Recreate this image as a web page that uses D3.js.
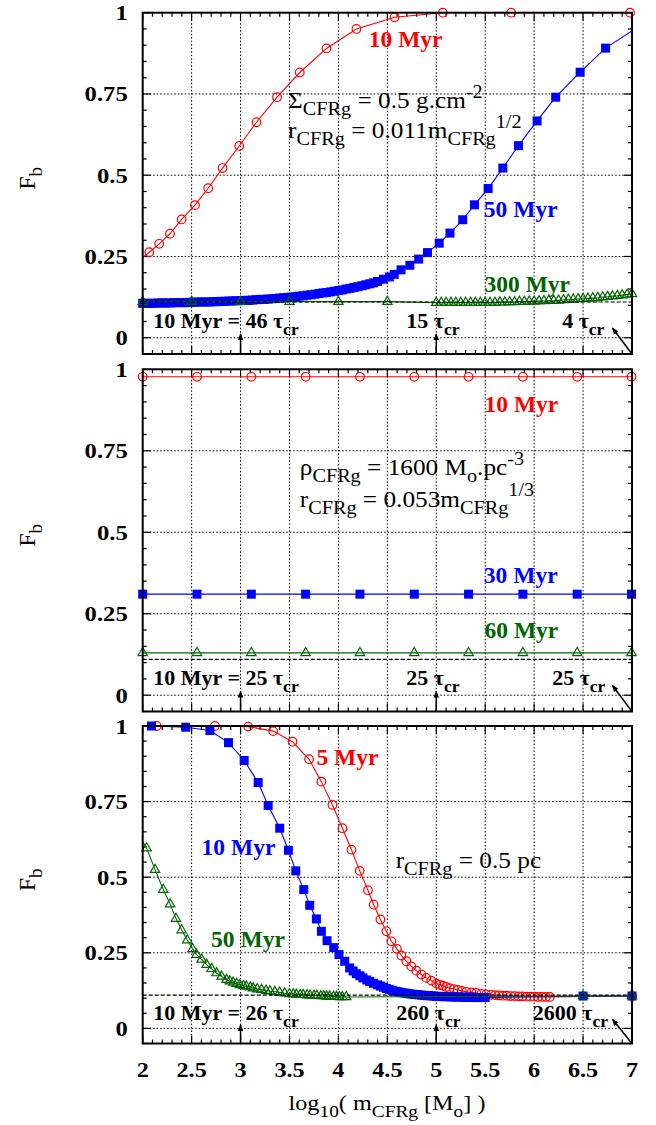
<!DOCTYPE html>
<html>
<head>
<meta charset="utf-8">
<script src="https://cdn.jsdelivr.net/npm/d3@7"></script>
<style>
  body { margin: 0; background: #fff; }
  svg { display: block; }
</style>
</head>
<body>
<div id="main"></div>
<script>
// ---- axes ----
const xTickVals = [2, 2.5, 3, 3.5, 4, 4.5, 5, 5.5, 6, 6.5, 7];
const xTickLabels = ["2", "2.5", "3", "3.5", "4", "4.5", "5", "5.5", "6", "6.5", "7"];
const yTickVals = [0, 0.25, 0.5, 0.75, 1];
const yTickLabels = ["0", "0.25", "0.5", "0.75", "1"];
const fbLevel = 0.11;

// ---- top panel: Sigma = 0.5 g/cm2 ----
const top10MyrX = [1.97, 2.067, 2.169, 2.279, 2.398, 2.534, 2.669, 2.816, 2.986, 3.163, 3.373, 3.605, 3.878, 4.184, 4.574, 5.067, 5.765, 6.98];
const top10MyrY = [0.240, 0.263, 0.289, 0.320, 0.364, 0.408, 0.460, 0.522, 0.590, 0.663, 0.740, 0.816, 0.890, 0.950, 0.986, 1.0, 1.0, 1.0];
const top50MyrX = [2.00, 2.04, 2.08, 2.12, 2.16, 2.20, 2.24, 2.28, 2.32, 2.36, 2.40, 2.44, 2.48, 2.52, 2.56, 2.60, 2.64, 2.68, 2.72, 2.76,
  2.80, 2.84, 2.88, 2.92, 2.96, 3.00, 3.04, 3.08, 3.12, 3.16, 3.20, 3.24, 3.28, 3.32, 3.36, 3.40, 3.44, 3.48, 3.52, 3.56,
  3.60, 3.64, 3.68, 3.72, 3.76, 3.80, 3.84, 3.88, 3.92, 3.96, 4.00, 4.04, 4.08, 4.12, 4.16, 4.20, 4.24, 4.28, 4.32, 4.36,
  4.40, 4.46, 4.52, 4.57, 4.64, 4.73, 4.82, 4.91, 5.03, 5.14, 5.27, 5.39, 5.53, 5.68, 5.84, 6.03, 6.22, 6.47, 6.73, 7.03];
const top50MyrY = [0.106, 0.106, 0.106, 0.106, 0.107, 0.107, 0.107, 0.107, 0.108, 0.108, 0.108, 0.108, 0.109, 0.109, 0.110, 0.110, 0.110, 0.110, 0.111, 0.111,
  0.112, 0.112, 0.113, 0.113, 0.114, 0.114, 0.115, 0.115, 0.116, 0.117, 0.118, 0.118, 0.119, 0.120, 0.121, 0.122, 0.123, 0.124, 0.125, 0.126,
  0.128, 0.129, 0.131, 0.132, 0.134, 0.136, 0.138, 0.139, 0.141, 0.143, 0.145, 0.147, 0.150, 0.152, 0.155, 0.157, 0.160, 0.163, 0.166, 0.169,
  0.173, 0.180, 0.187, 0.195, 0.209, 0.223, 0.242, 0.262, 0.291, 0.322, 0.363, 0.409, 0.459, 0.522, 0.591, 0.667, 0.740, 0.817, 0.891, 0.950];
const top300MyrX = [2.0, 2.5, 3.0, 3.5, 4.0, 4.5,
  5.00, 5.05, 5.10, 5.15, 5.20, 5.25, 5.30, 5.35, 5.40, 5.45, 5.50, 5.55, 5.60, 5.65, 5.70, 5.75, 5.80, 5.85, 5.90, 5.95,
  6.00, 6.05, 6.10, 6.15, 6.20, 6.25, 6.30, 6.35, 6.40, 6.45, 6.50, 6.55, 6.60, 6.65, 6.70, 6.75, 6.80, 6.85, 6.90, 6.95, 7.00];
const top300MyrY = [0.111, 0.111, 0.111, 0.111, 0.111, 0.111,
  0.108, 0.108, 0.108, 0.108, 0.108, 0.108, 0.108, 0.108, 0.108, 0.108, 0.108, 0.108, 0.108, 0.109, 0.109, 0.110, 0.110, 0.111, 0.111, 0.112,
  0.112, 0.113, 0.113, 0.114, 0.114, 0.115, 0.116, 0.117, 0.118, 0.119, 0.120, 0.121, 0.122, 0.123, 0.125, 0.126, 0.128, 0.129, 0.131, 0.133, 0.135];

// ---- middle panel: rho = 1600 Mo/pc3 ----
const midX = [2.0, 2.555, 3.11, 3.665, 4.22, 4.775, 5.33, 5.885, 6.44, 6.995];
const mid10MyrY = [0.977, 0.977, 0.977, 0.977, 0.977, 0.977, 0.977, 0.977, 0.977, 0.977];
const mid30MyrY = [0.310, 0.310, 0.310, 0.310, 0.310, 0.310, 0.310, 0.310, 0.310, 0.310];
const mid60MyrY = [0.130, 0.130, 0.130, 0.130, 0.130, 0.130, 0.130, 0.130, 0.130, 0.130];

// ---- bottom panel: r = 0.5 pc ----
const bot5MyrX = [1.6, 2.143, 2.738, 3.078, 3.333, 3.531, 3.70, 3.826, 3.939, 4.041, 4.133, 4.217, 4.302, 4.360, 4.429, 4.490, 4.541, 4.598, 4.643, 4.694,
  4.745, 4.796, 4.847, 4.898, 4.949, 5.0, 5.034, 5.067, 5.10, 5.136, 5.18, 5.22, 5.26, 5.306, 5.36, 5.408, 5.46, 5.51, 5.56, 5.60,
  5.64, 5.68, 5.72, 5.76, 5.80, 5.84, 5.88, 5.92, 5.96, 6.00, 6.04, 6.08, 6.12, 6.16, 7.0];
const bot5MyrY = [1.0, 1.0, 1.0, 0.998, 0.983, 0.948, 0.890, 0.816, 0.739, 0.662, 0.591, 0.521, 0.457, 0.409, 0.360, 0.321, 0.288, 0.263, 0.241, 0.222,
  0.205, 0.191, 0.178, 0.167, 0.158, 0.148, 0.144, 0.141, 0.137, 0.133, 0.130, 0.127, 0.124, 0.121, 0.119, 0.117, 0.114, 0.112, 0.111, 0.110,
  0.109, 0.108, 0.108, 0.107, 0.107, 0.106, 0.106, 0.105, 0.105, 0.105, 0.104, 0.104, 0.104, 0.104, 0.107];
const bot10MyrX = [1.8, 2.09, 2.44, 2.687, 2.877, 3.037, 3.18, 3.282, 3.40, 3.489, 3.564, 3.646, 3.707, 3.775, 3.826, 3.884, 3.952, 4.006, 4.064, 4.115,
  4.15, 4.183, 4.22, 4.25, 4.29, 4.32, 4.36, 4.40, 4.43, 4.46, 4.49, 4.52, 4.55, 4.58, 4.61, 4.64, 4.67, 4.70, 4.73, 4.76,
  4.79, 4.82, 4.85, 4.88, 4.91, 4.94, 4.97, 5.00, 5.03, 5.06, 5.09, 5.12, 5.15, 5.18, 5.21, 5.24, 5.27, 5.30, 5.33, 5.36,
  5.39, 5.42, 5.46, 5.50, 6.5, 7.0];
const bot10MyrY = [1.0, 1.0, 0.996, 0.985, 0.945, 0.886, 0.813, 0.737, 0.662, 0.589, 0.521, 0.459, 0.407, 0.362, 0.321, 0.290, 0.267, 0.244, 0.222, 0.200,
  0.190, 0.181, 0.174, 0.167, 0.160, 0.155, 0.149, 0.144, 0.140, 0.136, 0.132, 0.129, 0.126, 0.123, 0.121, 0.119, 0.117, 0.116, 0.114, 0.113,
  0.112, 0.111, 0.110, 0.109, 0.108, 0.108, 0.107, 0.106, 0.106, 0.105, 0.105, 0.105, 0.104, 0.104, 0.104, 0.104, 0.103, 0.103, 0.103, 0.103,
  0.102, 0.102, 0.102, 0.102, 0.107, 0.107];
const bot50MyrX = [1.96, 2.04, 2.126, 2.21, 2.28, 2.34, 2.398, 2.455, 2.51, 2.55, 2.602, 2.653, 2.704, 2.755, 2.806, 2.857, 2.89, 2.925, 2.96, 2.993,
  3.03, 3.06, 3.10, 3.129, 3.17, 3.214, 3.26, 3.30, 3.35, 3.40, 3.45, 3.50, 3.54, 3.57, 3.61, 3.64, 3.68, 3.71, 3.75, 3.78,
  3.82, 3.85, 3.88, 3.91, 3.95, 3.98, 4.01, 4.04, 4.08, 6.5, 7.0];
const bot50MyrY = [0.640, 0.596, 0.525, 0.459, 0.411, 0.363, 0.325, 0.292, 0.263, 0.244, 0.228, 0.211, 0.197, 0.183, 0.172, 0.161, 0.156, 0.152, 0.148, 0.144,
  0.141, 0.139, 0.136, 0.133, 0.130, 0.128, 0.125, 0.123, 0.121, 0.119, 0.116, 0.114, 0.113, 0.112, 0.111, 0.111, 0.110, 0.109, 0.108, 0.108,
  0.107, 0.107, 0.106, 0.106, 0.105, 0.105, 0.104, 0.104, 0.104, 0.107, 0.107];

const RED = "#ff0000", BLUE = "#0000ff", GREEN = "#006400";
const FONT = "'Liberation Serif', 'Times New Roman', Times, 'DejaVu Serif', serif";

function createChart() {
    d3.select("#main svg").remove();

    const width = 656, height = 1125;
    const left = 142.7, right = 632;

    const svg = d3.select("#main").append("svg")
        .attr("width", width)
        .attr("height", height)
        .attr("font-family", FONT);

    const defs = svg.append("defs");
    defs.append("marker")
        .attr("id", "arrowhead")
        .attr("viewBox", "0 0 10 10")
        .attr("refX", 9).attr("refY", 5)
        .attr("markerWidth", 7).attr("markerHeight", 7)
        .attr("markerUnits", "userSpaceOnUse")
        .attr("orient", "auto")
        .append("path").attr("d", "M0,1 L10,5 L0,9 Z").attr("fill", "#000");

    const x = d3.scaleLinear().domain([2, 7]).range([left, right]);

    // gnuplot-like enhanced text: a_{sub} b^{sup}
    function richText(g, px, py, str, opt) {
        const size = opt.size || 22;
        let tf = `translate(${px},${py})`;
        if (opt.rotate) tf += ` rotate(${opt.rotate})`;
        tf += ` scale(${opt.sx || 1},1)`;
        const t = g.append("text")
            .attr("transform", tf)
            .attr("font-family", FONT)
            .attr("font-size", size)
            .attr("font-weight", opt.weight || "normal")
            .attr("fill", opt.color || "#000")
            .attr("text-anchor", opt.anchor || "start");
        const re = /([_^])\{([^}]*)\}|([^_^]+)/g;
        let m, cur = 0;
        while ((m = re.exec(str)) !== null) {
            let s, off = 0, fs = size;
            if (m[1]) {
                s = m[2];
                off = m[1] === "_" ? size * 0.3 : -size * 0.45;
                fs = size * 0.8;
            } else {
                s = m[3];
            }
            t.append("tspan").attr("dy", off - cur).attr("font-size", fs).text(s);
            cur = off;
        }
        return t;
    }

    const panels = [
        {
            top: 12.7, bottom: 354,
            series: [
                {xs: top10MyrX, ys: top10MyrY, color: RED, shape: "circle"},
                {xs: top50MyrX, ys: top50MyrY, color: BLUE, shape: "square"},
                {xs: top300MyrX, ys: top300MyrY, color: GREEN, shape: "triangle"}
            ],
            labels: [
                {x: 4.31, y: 0.896, s: "10 Myr", color: RED, series: true},
                {x: 5.486, y: 0.372, s: "50 Myr", color: BLUE, series: true},
                {x: 5.493, y: 0.142, s: "300 Myr", color: GREEN, series: true},
                {x: 3.486, y: 0.706, s: "Σ_{CFRg} = 0.5 g.cm^{-2}"},
                {x: 3.486, y: 0.614, s: "r_{CFRg} = 0.011m_{CFRg}^{1/2}"},
                {x: 2.108, y: 0.029, s: "10 Myr = 46 τ_{cr}", bold: true},
                {x: 4.694, y: 0.029, s: "15 τ_{cr}", bold: true},
                {x: 6.286, y: 0.029, s: "4 τ_{cr}", bold: true}
            ]
        },
        {
            top: 369.3, bottom: 711.5,
            series: [
                {xs: midX, ys: mid10MyrY, color: RED, shape: "circle"},
                {xs: midX, ys: mid30MyrY, color: BLUE, shape: "square"},
                {xs: midX, ys: mid60MyrY, color: GREEN, shape: "triangle"}
            ],
            labels: [
                {x: 5.493, y: 0.870, s: "10 Myr", color: RED, series: true},
                {x: 5.486, y: 0.345, s: "30 Myr", color: BLUE, series: true},
                {x: 5.493, y: 0.175, s: "60 Myr", color: GREEN, series: true},
                {x: 3.605, y: 0.675, s: "ρ_{CFRg} = 1600 M_{o}.pc^{-3}"},
                {x: 3.605, y: 0.578, s: "r_{CFRg} = 0.053m_{CFRg}^{1/3}"},
                {x: 2.108, y: 0.031, s: "10 Myr = 25 τ_{cr}", bold: true},
                {x: 4.694, y: 0.031, s: "25 τ_{cr}", bold: true},
                {x: 6.184, y: 0.031, s: "25 τ_{cr}", bold: true}
            ]
        },
        {
            top: 726, bottom: 1043.5,
            series: [
                {xs: bot5MyrX, ys: bot5MyrY, color: RED, shape: "circle"},
                {xs: bot10MyrX, ys: bot10MyrY, color: BLUE, shape: "square"},
                {xs: bot50MyrX, ys: bot50MyrY, color: GREEN, shape: "triangle"}
            ],
            labels: [
                {x: 3.776, y: 0.871, s: "5 Myr", color: RED, series: true},
                {x: 2.602, y: 0.573, s: "10 Myr", color: BLUE, series: true},
                {x: 2.699, y: 0.270, s: "50 Myr", color: GREEN, series: true},
                {x: 4.585, y: 0.529, s: "r_{CFRg} = 0.5 pc"},
                {x: 2.108, y: 0.028, s: "10 Myr = 26 τ_{cr}", bold: true},
                {x: 4.592, y: 0.028, s: "260 τ_{cr}", bold: true},
                {x: 5.986, y: 0.028, s: "2600 τ_{cr}", bold: true}
            ],
            xAxis: true
        }
    ];

    panels.forEach((p, pi) => {
        const y = d3.scaleLinear().domain([-0.05, 1]).range([p.bottom, p.top]);
        const g = svg.append("g");

        const clipId = "clip" + pi;
        defs.append("clipPath").attr("id", clipId)
            .append("rect")
            .attr("x", left).attr("y", p.top)
            .attr("width", right - left).attr("height", p.bottom - p.top);

        // grid
        g.selectAll(".gx").data(xTickVals.slice(1, -1)).enter().append("line")
            .attr("x1", d => x(d)).attr("x2", d => x(d))
            .attr("y1", p.top).attr("y2", p.bottom)
            .attr("stroke", "#000").attr("stroke-width", 1)
            .attr("stroke-dasharray", "1.5,2");
        g.selectAll(".gy").data(yTickVals.slice(0, -1)).enter().append("line")
            .attr("x1", left).attr("x2", right)
            .attr("y1", d => y(d)).attr("y2", d => y(d))
            .attr("stroke", "#000").attr("stroke-width", 1)
            .attr("stroke-dasharray", "1.5,2");

        // minor + major ticks on all four sides, pointing inward
        const xMinor = d3.range(2, 7.0001, 0.1);
        const yMinor = d3.range(-0.05, 1.0001, 0.05);
        const tk = g.append("g").attr("stroke", "#000").attr("stroke-width", 1.2);
        xMinor.forEach(v => {
            const major = Math.abs(v * 2 - Math.round(v * 2)) < 1e-6;
            const len = major ? 8 : 4;
            tk.append("line").attr("x1", x(v)).attr("x2", x(v)).attr("y1", p.bottom).attr("y2", p.bottom - len);
            tk.append("line").attr("x1", x(v)).attr("x2", x(v)).attr("y1", p.top).attr("y2", p.top + len);
        });
        yMinor.forEach(v => {
            const major = Math.abs(v * 4 - Math.round(v * 4)) < 1e-6;
            const len = major ? 8 : 4;
            tk.append("line").attr("x1", left).attr("x2", left + len).attr("y1", y(v)).attr("y2", y(v));
            tk.append("line").attr("x1", right).attr("x2", right - len).attr("y1", y(v)).attr("y2", y(v));
        });

        // series
        const line = d3.line().x(d => x(d[0])).y(d => y(d[1]));
        p.series.forEach(s => {
            const pts = s.xs.map((v, i) => [v, s.ys[i]]);
            const sg = g.append("g");
            sg.append("path")
                .attr("d", line(pts))
                .attr("clip-path", `url(#${clipId})`)
                .attr("fill", "none")
                .attr("stroke", s.color)
                .attr("stroke-width", 1.1);
            const inside = pts.filter(d => d[0] >= 2 - 1e-9 && d[0] <= 7 + 1e-9);
            if (s.shape === "circle") {
                sg.selectAll("circle").data(inside).enter().append("circle")
                    .attr("cx", d => x(d[0])).attr("cy", d => y(d[1]))
                    .attr("r", 4.3)
                    .attr("fill", "none").attr("stroke", s.color).attr("stroke-width", 1.2);
            } else if (s.shape === "square") {
                sg.selectAll("rect").data(inside).enter().append("rect")
                    .attr("x", d => x(d[0]) - 4.5).attr("y", d => y(d[1]) - 4.5)
                    .attr("width", 9).attr("height", 9)
                    .attr("fill", s.color);
            } else {
                const tri = d3.symbol().type(d3.symbolTriangle).size(38);
                sg.selectAll("path.tri").data(inside).enter().append("path")
                    .attr("class", "tri")
                    .attr("transform", d => `translate(${x(d[0])},${y(d[1])})`)
                    .attr("d", tri)
                    .attr("fill", "none").attr("stroke", s.color).attr("stroke-width", 1.2);
            }
        });

        // reference level
        g.append("line")
            .attr("x1", left).attr("x2", right)
            .attr("y1", y(fbLevel)).attr("y2", y(fbLevel))
            .attr("stroke", "#000").attr("stroke-width", 1.2)
            .attr("stroke-dasharray", "4,2");

        // arrows
        const arrows = [[3, -0.05, 3, 0.012], [5, -0.05, 5, 0.012], [7, -0.05, 6.8, 0.03]];
        arrows.forEach(a => {
            g.append("line")
                .attr("x1", x(a[0])).attr("y1", y(a[1]))
                .attr("x2", x(a[2])).attr("y2", y(a[3]))
                .attr("stroke", "#000").attr("stroke-width", 1.5)
                .attr("marker-end", "url(#arrowhead)");
        });

        // frame
        g.append("rect")
            .attr("x", left).attr("y", p.top)
            .attr("width", right - left).attr("height", p.bottom - p.top)
            .attr("fill", "none").attr("stroke", "#000").attr("stroke-width", 2);

        // y tick labels
        yTickVals.forEach((v, i) => {
            richText(g, left - 15, y(v) + 7.5, yTickLabels[i], {size: 22, weight: "bold", anchor: "end", sx: 1.12});
        });

        // y title
        richText(g, 35, (p.top + p.bottom) / 2 - 5, "F_{b}", {size: 24, rotate: -90, anchor: "middle"});

        // labels
        p.labels.forEach(l => {
            const bold = l.bold || l.series;
            richText(g, x(l.x), y(l.y), l.s, {
                size: l.series ? 23.5 : (bold ? 22 : 23),
                weight: bold ? "bold" : "normal",
                color: l.color || "#000",
                sx: bold ? 1 : 1.1
            });
        });

        if (p.xAxis) {
            xTickVals.forEach((v, i) => {
                richText(g, x(v), p.bottom + 33, xTickLabels[i], {size: 22, weight: "bold", anchor: "middle", sx: 1.1});
            });
            richText(g, 387, 1110, "log_{10}( m_{CFRg} [M_{o}] )", {size: 22, anchor: "middle", sx: 1.1});
        }
    });
}

document.addEventListener("DOMContentLoaded", function() {
    createChart();
});
</script>
</body>
</html>
